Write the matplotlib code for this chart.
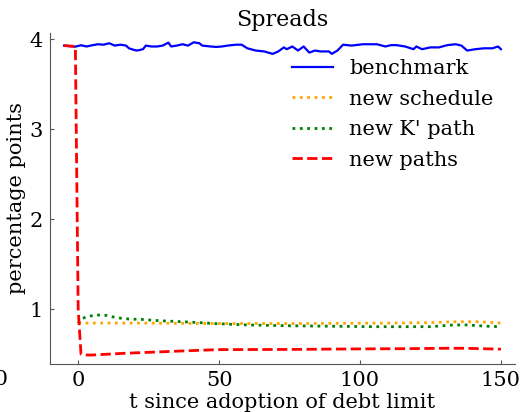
import matplotlib
matplotlib.use('Agg')
import matplotlib.pyplot as plt

# spread paths after adoption of the debt limit (percentage points)
bench_t = [-5, -1, 1, 3, 5, 7, 9, 11, 13, 15, 17, 18, 20, 21, 23, 24, 26,
           28, 30, 32, 33, 35, 37, 39, 41, 43, 44, 47, 49, 51, 53, 56, 58,
           60, 63, 66, 69, 71, 73, 74, 76, 78, 80, 82, 84, 86, 89, 90, 92,
           94, 97, 101, 104, 106, 109, 111, 113, 116, 119, 120, 122, 125,
           128, 131, 134, 136, 138, 141, 144, 147, 149, 150]
bench = [3.93, 3.918, 3.934, 3.92, 3.934, 3.945, 3.94, 3.956, 3.93, 3.94,
         3.93, 3.90, 3.88, 3.875, 3.89, 3.93, 3.92, 3.92, 3.93, 3.963, 3.92,
         3.93, 3.945, 3.93, 3.967, 3.956, 3.93, 3.92, 3.915, 3.92, 3.93,
         3.94, 3.94, 3.90, 3.875, 3.865, 3.838, 3.865, 3.91, 3.89, 3.92,
         3.875, 3.92, 3.852, 3.875, 3.865, 3.865, 3.838, 3.875, 3.94, 3.93,
         3.945, 3.945, 3.945, 3.92, 3.935, 3.935, 3.92, 3.89, 3.92, 3.89,
         3.91, 3.91, 3.935, 3.945, 3.93, 3.875, 3.89, 3.90, 3.90, 3.92, 3.89]

sched_t = [0, 20, 50, 80, 110, 125, 133, 142, 150]
sched = [0.845, 0.845, 0.84, 0.84, 0.845, 0.85, 0.86, 0.86, 0.845]

kpath_t = [0, 1, 3, 6, 8, 10, 12, 15, 18, 23, 27, 31, 37, 43, 48, 60, 75,
           90, 105, 125, 133, 138, 145, 150]
kpath = [0.84, 0.89, 0.915, 0.934, 0.934, 0.93, 0.915, 0.90, 0.89, 0.885,
         0.875, 0.868, 0.86, 0.85, 0.84, 0.824, 0.815, 0.81, 0.805, 0.805,
         0.824, 0.824, 0.81, 0.805]

paths_t = [-5, -3, -1, 0, 1, 3, 5, 17, 29, 41, 50, 75, 100, 115, 131, 137,
           150]
paths = [3.93, 3.925, 3.92, 1.0, 0.5, 0.49, 0.49, 0.51, 0.525, 0.54, 0.55,
         0.552, 0.558, 0.56, 0.565, 0.565, 0.555]

plt.rcParams['font.family'] = 'DejaVu Serif'

fig = plt.figure(figsize=(5.25, 4.12), dpi=100)
ax = fig.add_axes([50 / 525, 48 / 412, 465 / 525, 331 / 412])

ax.plot(bench_t, bench, color='blue', lw=1.6, label='benchmark')
ax.plot(sched_t, sched, color='orange', lw=2, ls=':', label='new schedule')
ax.plot(kpath_t, kpath, color='green', lw=2, ls=':', label="new K' path")
ax.plot(paths_t, paths, color='red', lw=2, ls='--', label='new paths')

ax.set_xlim(-10, 155)
ax.set_ylim(0.39, 4.07)
ax.set_xticks([0, 50, 100, 150])
ax.set_yticks([1, 2, 3, 4])
ax.tick_params(direction='in', length=3, color='#555555', labelsize=15,
               pad=5)
for side in ['top', 'right']:
    ax.spines[side].set_visible(False)
for side in ['left', 'bottom']:
    ax.spines[side].set_color('#555555')

ax.set_title('Spreads', size=16, pad=5)
ax.set_xlabel('t since adoption of debt limit', size=15, labelpad=2)
ax.set_ylabel('percentage points', size=15, labelpad=3)
ax.legend(loc='upper right', bbox_to_anchor=(0.985, 0.965), frameon=False,
          fontsize=15, handlelength=2.0, handletextpad=0.75,
          labelspacing=0.55, borderaxespad=0.3)

# edge of the neighbouring panel's axis labels
fig.text(8 / 525, 48 / 412 - 0.015, '150', ha='right', va='top', size=15)

fig.savefig('out.png')
